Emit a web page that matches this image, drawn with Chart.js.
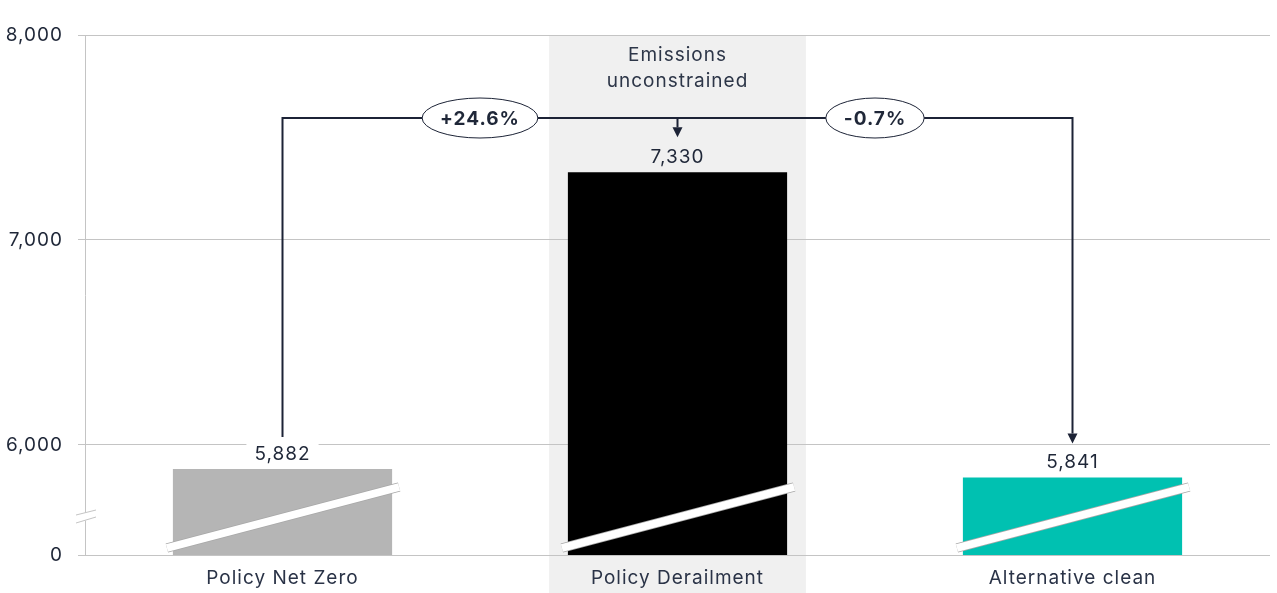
<!DOCTYPE html>
<html>
<head>
<meta charset="utf-8">
<script src="https://cdn.jsdelivr.net/npm/chart.js@4"></script>
<style>
  html, body { margin: 0; padding: 0; background: #ffffff; }
  #wrap { width: 1277px; height: 593px; }
</style>
</head>
<body>
<div id="wrap"><canvas id="myChart"></canvas></div>
<script>
// chart data
const categories = ["Policy Net Zero", "Policy Derailment", "Alternative clean"];
const values = [5882, 7330, 5841];
const barColors = ["#b5b5b5", "#000000", "#00c1b1"];
const yTicks = [6000, 7000, 8000];
const axisFloor = 5463; // value sitting on the "0" baseline, below the break
const changeLabels = ["+24.6%", "-0.7%"];
const highlightIndex = 1;
const highlightNote = ["Emissions", "unconstrained"];
const connectorLevel = 7595;

const FONT = "Inter, 'Noto Sans', sans-serif";
const TEXT = "#1f2738";
const LINE = "#1c2336";
const GRID = "#c4c4c4";
const BAND = "#f0f0f0";

// grey band behind the highlighted category (+ wider letter spacing for all text)
const bandPlugin = {
    id: "band",
    beforeDraw(chart) {
        const { ctx, chartArea, scales } = chart;
        ctx.letterSpacing = "1px";
        const x = scales.x.getPixelForValue(highlightIndex);
        const w = (scales.x.width / categories.length) * 0.65;
        ctx.save();
        ctx.fillStyle = BAND;
        ctx.fillRect(x - w / 2, chartArea.top + 1, w, chart.height - chartArea.top);
        ctx.restore();
    },
};

function arrowDown(ctx, x, tipY) {
    ctx.beginPath();
    ctx.moveTo(x - 5, tipY - 10);
    ctx.lineTo(x + 5, tipY - 10);
    ctx.lineTo(x, tipY);
    ctx.closePath();
    ctx.fill();
}

const annotationPlugin = {
    id: "annotations",
    afterDatasetsDraw(chart) {
        const { ctx, chartArea, scales } = chart;
        const bars = chart.getDatasetMeta(0).data;
        const base = scales.y.getPixelForValue(axisFloor);
        ctx.save();

        // break slashes across the bars
        bars.forEach((bar) => {
            const p = bar.getProps(["x", "width"], true);
            const left = p.x - p.width / 2 - 6;
            const right = p.x + p.width / 2 + 7;
            const yL = base - 7;
            const yR = base - 68;
            ctx.lineCap = "butt";
            ctx.strokeStyle = "#a8a8a8";
            ctx.lineWidth = 9.5;
            ctx.beginPath();
            ctx.moveTo(left, yL);
            ctx.lineTo(right, yR);
            ctx.stroke();
            ctx.strokeStyle = "#ffffff";
            ctx.lineWidth = 8;
            ctx.beginPath();
            ctx.moveTo(left, yL);
            ctx.lineTo(right, yR);
            ctx.stroke();
        });

        // axis break marks
        const ax = chartArea.left;
        const by = chartArea.bottom - 39;
        ctx.fillStyle = "#ffffff";
        ctx.beginPath();
        ctx.moveTo(ax - 9, by - 1);
        ctx.lineTo(ax + 11, by - 6);
        ctx.lineTo(ax + 11, by + 2);
        ctx.lineTo(ax - 9, by + 7);
        ctx.closePath();
        ctx.fill();
        ctx.strokeStyle = GRID;
        ctx.lineWidth = 1;
        [[-1, -6], [7, 1]].forEach(([a, b]) => {
            ctx.beginPath();
            ctx.moveTo(ax - 9, by + a);
            ctx.lineTo(ax + 11, by + b);
            ctx.stroke();
        });

        // value labels
        ctx.font = "19px " + FONT;
        ctx.textAlign = "center";
        ctx.textBaseline = "middle";
        bars.forEach((bar, i) => {
            const txt = values[i].toLocaleString("en-US");
            const w = ctx.measureText(txt).width;
            const cy = bar.y - 16;
            ctx.fillStyle = i === highlightIndex ? BAND : "#ffffff";
            ctx.fillRect(bar.x - w / 2 - 8, cy - 12, w + 16, 24);
            ctx.fillStyle = TEXT;
            ctx.fillText(txt, bar.x, cy + 1);
        });

        // connector lines
        const yc = scales.y.getPixelForValue(connectorLevel);
        const b0 = bars[0], b1 = bars[1], b2 = bars[2];
        ctx.strokeStyle = LINE;
        ctx.fillStyle = LINE;
        ctx.lineWidth = 2;
        ctx.lineJoin = "miter";
        ctx.beginPath();
        ctx.moveTo(b0.x, b0.y - 32);
        ctx.lineTo(b0.x, yc);
        ctx.lineTo(b2.x, yc);
        ctx.lineTo(b2.x, b2.y - 44);
        ctx.stroke();
        arrowDown(ctx, b2.x, b2.y - 34);
        ctx.beginPath();
        ctx.moveTo(b1.x, yc);
        ctx.lineTo(b1.x, b1.y - 45);
        ctx.stroke();
        arrowDown(ctx, b1.x, b1.y - 35);

        // change bubbles
        ctx.font = "bold 19px " + FONT;
        [[b0, b1], [b1, b2]].forEach(([p, q], i) => {
            const mx = (p.x + q.x) / 2;
            const w = ctx.measureText(changeLabels[i]).width;
            ctx.beginPath();
            ctx.ellipse(mx, yc, w / 2 + 18, 20, 0, 0, Math.PI * 2);
            ctx.fillStyle = "#ffffff";
            ctx.fill();
            ctx.lineWidth = 1;
            ctx.strokeStyle = LINE;
            ctx.stroke();
            ctx.fillStyle = TEXT;
            ctx.fillText(changeLabels[i], mx, yc + 1);
        });

        // note above the highlighted bar
        ctx.font = "19px " + FONT;
        ctx.fillStyle = "#2d3648";
        highlightNote.forEach((line, i) => {
            ctx.fillText(line, b1.x, 55 + i * 26);
        });

        ctx.restore();
    },
};

document.addEventListener("DOMContentLoaded", function () {
    const ctx = document.getElementById("myChart");

    new Chart(ctx, {
        type: "bar",
        data: {
            labels: categories,
            datasets: [
                {
                    data: values,
                    backgroundColor: barColors,
                    barPercentage: 0.555,
                    categoryPercentage: 1,
                },
            ],
        },
        options: {
            responsive: true,
            maintainAspectRatio: false,
            animation: false,
            layout: { padding: { top: 35, right: 7, left: 0, bottom: 0 } },
            plugins: {
                legend: { display: false },
                tooltip: { enabled: false },
            },
            scales: {
                x: {
                    grid: { display: false, drawTicks: false },
                    border: { display: false },
                    ticks: {
                        color: "#2a3347",
                        font: { family: FONT, size: 19 },
                        padding: 12,
                    },
                    afterFit(scale) {
                        scale.height = 38;
                    },
                },
                y: {
                    min: axisFloor,
                    max: 8000,
                    afterBuildTicks(scale) {
                        scale.ticks = [axisFloor, ...yTicks].map((v) => ({ value: v }));
                    },
                    afterFit(scale) {
                        scale.width = 85;
                    },
                    grid: { color: GRID, tickLength: 7 },
                    border: { display: true, color: GRID },
                    ticks: {
                        color: TEXT,
                        padding: 15,
                        font: { family: FONT, size: 19 },
                        callback: (v) => (v === axisFloor ? "0" : v.toLocaleString("en-US")),
                    },
                },
            },
        },
        plugins: [bandPlugin, annotationPlugin],
    });
});
</script>
</body>
</html>
